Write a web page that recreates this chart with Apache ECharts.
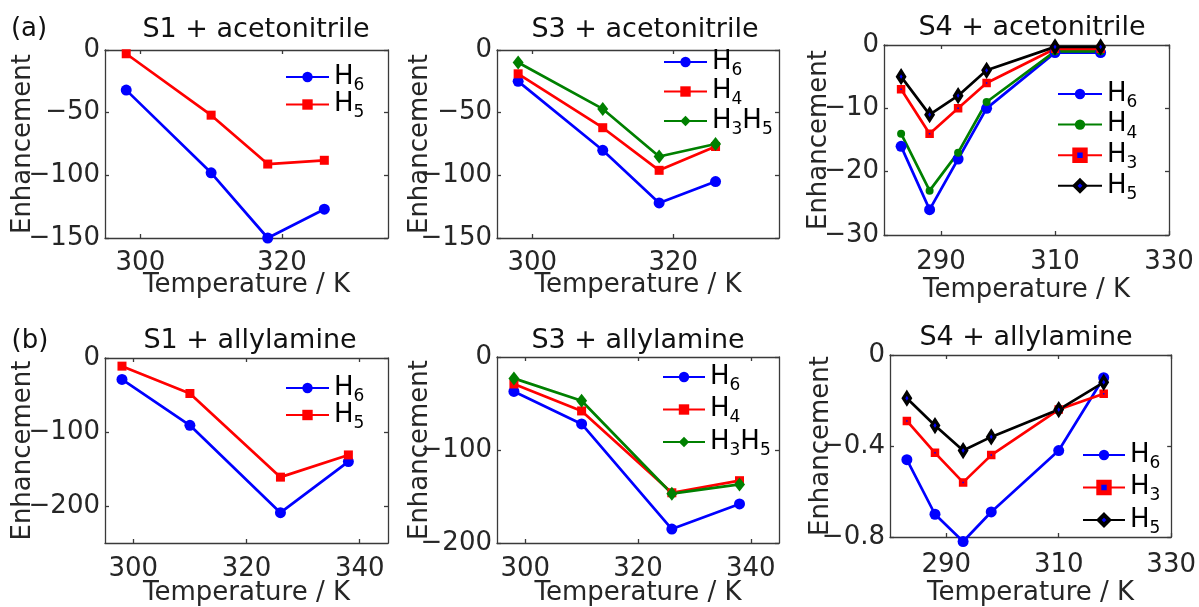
<!DOCTYPE html>
<html>
<head>
<meta charset="utf-8">
<script src="https://cdn.jsdelivr.net/npm/echarts@6/dist/echarts.min.js"></script>
<style>
  html, body { margin: 0; padding: 0; background: #ffffff; }
  #chart { width: 1199px; height: 607px; }
</style>
</head>
<body>
<div id="chart"></div>
<script>
// ---- temperatures (K) ----
const tempS1Acn = [298, 310, 318, 326];
const tempS3Acn = [298, 310, 318, 326];
const tempS4Acn = [283, 288, 293, 298, 310, 318];
const tempS1All = [298, 310, 326, 338];
const tempS3All = [298, 310, 326, 338];
const tempS4All = [283, 288, 293, 298, 310, 318];

// ---- enhancement values ----
// S1 + acetonitrile
const s1AcnH6 = [-32, -98, -150, -127];
const s1AcnH5 = [-3, -52, -91, -88];
// S3 + acetonitrile
const s3AcnH6 = [-25, -80, -122, -105];
const s3AcnH4 = [-19, -62, -96, -77];
const s3AcnH3H5 = [-10, -47, -85, -75];
// S4 + acetonitrile
const s4AcnH6 = [-16, -26, -18, -10, -1.2, -1.2];
const s4AcnH4 = [-14, -23, -17, -9, -1.0, -1.0];
const s4AcnH3 = [-7, -14, -10, -6, -0.6, -0.6];
const s4AcnH5 = [-5, -11, -8, -4, -0.3, -0.3];
// S1 + allylamine
const s1AllH6 = [-29, -91, -209, -140];
const s1AllH5 = [-11, -48, -161, -131];
// S3 + allylamine
const s3AllH6 = [-37, -72, -185, -158];
const s3AllH4 = [-29, -58, -146, -133];
const s3AllH3H5 = [-23, -47, -147, -137];
// S4 + allylamine
const s4AllH6 = [-0.46, -0.70, -0.82, -0.69, -0.42, -0.10];
const s4AllH3 = [-0.29, -0.43, -0.56, -0.44, -0.24, -0.17];
const s4AllH5 = [-0.19, -0.31, -0.42, -0.36, -0.24, -0.12];

// ---- tick labels ----
const xTicksShort = [300, 320];
const xTicksLong = [300, 320, 340];
const xTicksLow = [290, 310, 330];
const yTicksAcn = [0, -50, -100, -150];
const yTicksS4Acn = [0, -10, -20, -30];
const yTicksAll = [0, -100, -200];
const yTicksS4All = [0, -0.4, -0.8];

// ---- panel titles ----
const titles = ['S1 + acetonitrile', 'S3 + acetonitrile', 'S4 + acetonitrile',
                'S1 + allylamine', 'S3 + allylamine', 'S4 + allylamine'];

const FONT = 'DejaVu Sans';
const INK = '#262626';
const FRAME = '#3a3a3a';
const BLUE = '#0000ff', RED = '#ff0000', GREEN = '#008000', BLACK = '#000000';

// marker styles (legendBw: thicker edge so the legend glyph keeps a small centre dot)
const mk = {
  blueCircle:  { symbol: 'circle', size: 11, fill: BLUE, line: BLUE },
  redSquare:   { symbol: 'rect', size: 9, fill: RED, line: RED },
  greenDiamond:{ symbol: 'diamond', size: [11, 14], fill: GREEN, line: GREEN },
  greenDot:    { symbol: 'circle', size: 8, fill: GREEN, line: GREEN },
  redSquareDot:{ symbol: 'rect', size: 5, fill: BLUE, line: RED, border: RED, bw: 3.5, legendBw: 5 },
  blackDiamond:{ symbol: 'diamond', size: [7, 11], fill: BLUE, line: BLACK, border: BLACK, bw: 3.5, legendBw: 4 }
};

// legend labels with subscripts
const sub = (...parts) => parts.map(p => '{h|H}{s|' + p + '}').join('');

const panels = [
  { grid: { left: 105, top: 50, width: 283, height: 188 }, x: [295, 335], xt: xTicksShort,
    y: [-150, 0], yt: yTicksAcn, yGap: 69, xGap: 34, xMargin: 12, title: [256, 30],
    legend: { left: 285, top: 64, gap: -2.5, w: 43 },
    series: [['H6', tempS1Acn, s1AcnH6, mk.blueCircle, sub('6')],
             ['H5', tempS1Acn, s1AcnH5, mk.redSquare, sub('5')]] },
  { grid: { left: 497, top: 50, width: 282, height: 188 }, x: [295, 335], xt: xTicksShort,
    y: [-150, 0], yt: yTicksAcn, yGap: 64, xGap: 34, xMargin: 12, title: [645, 30],
    legend: { left: 663, top: 49, gap: -0.5, w: 43 },
    series: [['H6', tempS3Acn, s3AcnH6, mk.blueCircle, sub('6')],
             ['H4', tempS3Acn, s3AcnH4, mk.redSquare, sub('4')],
             ['H3H5', tempS3Acn, s3AcnH3H5, mk.greenDiamond, sub('3', '5')]] },
  { grid: { left: 884, top: 45, width: 285, height: 190 }, x: [280, 330], xt: xTicksLow,
    y: [-30, 0], yt: yTicksS4Acn, yGap: 52, xGap: 42, xMargin: 14, title: [1032, 28],
    legend: { left: 1057, top: 81, gap: 0.6, w: 44 },
    series: [['H6', tempS4Acn, s4AcnH6, mk.blueCircle, sub('6')],
             ['H4', tempS4Acn, s4AcnH4, mk.greenDot, sub('4')],
             ['H3', tempS4Acn, s4AcnH3, mk.redSquareDot, sub('3')],
             ['H5', tempS4Acn, s4AcnH5, mk.blackDiamond, sub('5')]] },
  { grid: { left: 105, top: 358, width: 283, height: 186 }, x: [295, 345], xt: xTicksLong,
    y: [-250, 0], yt: yTicksAll, yGap: 69, xGap: 37, xMargin: 13, title: [250, 341],
    legend: { left: 285, top: 375, gap: -3, w: 43 },
    series: [['H6', tempS1All, s1AllH6, mk.blueCircle, sub('6')],
             ['H5', tempS1All, s1AllH5, mk.redSquare, sub('5')]] },
  { grid: { left: 497, top: 357, width: 282, height: 187 }, x: [295, 345], xt: xTicksLong,
    y: [-200, 0], yt: yTicksAll, yGap: 64, xGap: 37, xMargin: 13, title: [638, 341],
    legend: { left: 662, top: 364, gap: 2.5, w: 42 },
    series: [['H6', tempS3All, s3AllH6, mk.blueCircle, sub('6')],
             ['H4', tempS3All, s3AllH4, mk.redSquare, sub('4')],
             ['H3H5', tempS3All, s3AllH3H5, mk.greenDiamond, sub('3', '5')]] },
  { grid: { left: 890, top: 355, width: 284, height: 183 }, x: [280, 330], xt: xTicksLow,
    y: [-0.8, 0], yt: yTicksS4All, yGap: 56, xGap: 43, xMargin: 15, title: [1026, 338],
    legend: { left: 1082, top: 442, gap: 2.5, w: 42 },
    series: [['H6', tempS4All, s4AllH6, mk.blueCircle, sub('6')],
             ['H3', tempS4All, s4AllH3, mk.redSquareDot, sub('3')],
             ['H5', tempS4All, s4AllH5, mk.blackDiamond, sub('5')]] }
];

const minus = v => String(v).replace('-', '\u2212');

const grid = [], xAxis = [], yAxis = [], series = [], legend = [], graphic = [];
const legendLabels = {};

panels.forEach((p, i) => {
  grid.push(Object.assign({ containLabel: false }, p.grid));
  const line = { show: true, onZero: false, lineStyle: { color: FRAME, width: 1.3 } };
  const tickBase = { show: true, inside: true, length: 4, lineStyle: { color: FRAME, width: 1.3 } };
  // bottom / left axes with labels
  xAxis.push({
    type: 'value', gridIndex: i, min: p.x[0], max: p.x[1], position: 'bottom',
    axisLine: line, splitLine: { show: false },
    axisTick: Object.assign({ customValues: p.xt }, tickBase),
    axisLabel: { customValues: p.xt, formatter: minus, color: INK, fontFamily: FONT, fontSize: 26, margin: p.xMargin },
    name: 'Temperature / K', nameLocation: 'middle', nameGap: p.xGap, nameMoveOverlap: false,
    nameTextStyle: { color: INK, fontFamily: FONT, fontSize: 26 }
  });
  yAxis.push({
    type: 'value', gridIndex: i, min: p.y[0], max: p.y[1], position: 'left',
    axisLine: line, splitLine: { show: false },
    axisTick: Object.assign({ customValues: p.yt }, tickBase),
    axisLabel: { customValues: p.yt, formatter: minus, color: INK, fontFamily: FONT, fontSize: 26, margin: 5 },
    name: 'Enhancement', nameLocation: 'middle', nameGap: p.yGap, nameMoveOverlap: false,
    nameTextStyle: { color: INK, fontFamily: FONT, fontSize: 26 }
  });
  // top / right axes: box edges with inward ticks
  xAxis.push({
    type: 'value', gridIndex: i, min: p.x[0], max: p.x[1], position: 'top',
    axisLine: line, splitLine: { show: false },
    axisTick: Object.assign({ customValues: p.xt }, tickBase),
    axisLabel: { show: false }
  });
  yAxis.push({
    type: 'value', gridIndex: i, min: p.y[0], max: p.y[1], position: 'right',
    axisLine: line, splitLine: { show: false },
    axisTick: Object.assign({ customValues: p.yt }, tickBase),
    axisLabel: { show: false }
  });

  const items = [];
  p.series.forEach(([label, temps, vals, m, rich]) => {
    const id = 'p' + i + '-' + label;
    const item = { name: id };
    if (m.legendBw) item.itemStyle = { borderWidth: m.legendBw };
    items.push(item);
    legendLabels[id] = rich;
    series.push({
      type: 'line', name: id, xAxisIndex: 2 * i, yAxisIndex: 2 * i,
      data: temps.map((t, k) => [t, vals[k]]),
      symbol: m.symbol, symbolSize: m.size, showSymbol: true, clip: false,
      lineStyle: { color: m.line, width: 2.7 },
      itemStyle: { color: m.fill, borderColor: m.border || m.fill, borderWidth: m.bw || 0, opacity: 1 },
      emphasis: { disabled: true }, z: 2
    });
  });

  legend.push({
    data: items, orient: 'vertical', left: p.legend.left, top: p.legend.top,
    padding: 0, itemGap: p.legend.gap, itemWidth: p.legend.w, itemHeight: 13,
    selectedMode: false,
    formatter: n => legendLabels[n],
    textStyle: {
      color: '#000', fontFamily: FONT,
      rich: {
        h: { fontSize: 26, lineHeight: 26, verticalAlign: 'top', fontFamily: FONT, color: '#000' },
        s: { fontSize: 17, lineHeight: 12, padding: [13, 0, 0, 0], verticalAlign: 'top', fontFamily: FONT, color: '#000' }
      }
    }
  });

  graphic.push({
    type: 'text', x: p.title[0], y: p.title[1], silent: true,
    style: { text: titles[i], font: '27px "' + FONT + '"', fill: '#111', align: 'center', verticalAlign: 'middle' }
  });
});

graphic.push({ type: 'text', x: 29, y: 29, silent: true,
  style: { text: '(a)', font: '26px "' + FONT + '"', fill: '#111', align: 'center', verticalAlign: 'middle' } });
graphic.push({ type: 'text', x: 30, y: 341, silent: true,
  style: { text: '(b)', font: '26px "' + FONT + '"', fill: '#111', align: 'center', verticalAlign: 'middle' } });

const chart = echarts.init(document.getElementById('chart'), null, { renderer: 'canvas' });
chart.setOption({
  animation: false,
  backgroundColor: '#ffffff',
  grid, xAxis, yAxis, series, legend, graphic
});
</script>
</body>
</html>
